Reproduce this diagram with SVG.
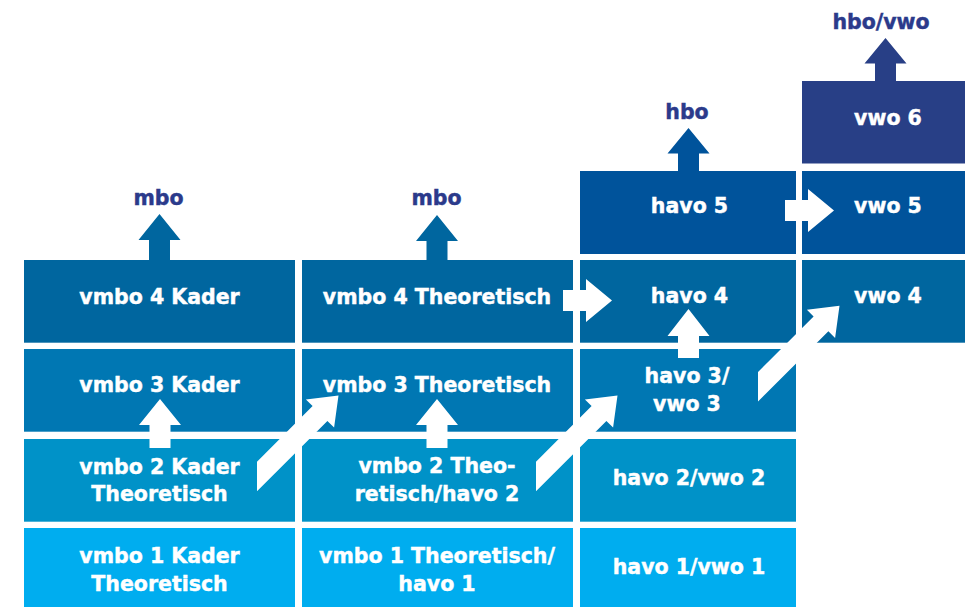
<svg xmlns="http://www.w3.org/2000/svg" width="965" height="607" viewBox="0 0 965 607">
<style>
text{font-family:"DejaVu Sans","Liberation Sans",sans-serif;font-weight:bold;font-size:20.5px;text-anchor:middle;stroke-width:0.45px}
.t{fill:#ffffff;stroke:#ffffff}
.lbl{fill:#2B3A8B;stroke:#2B3A8B}
.r1{fill:#00ADEF}
.r2{fill:#0092C8}
.r3{fill:#0077B3}
.r4{fill:#00669F}
.r5{fill:#00539B}
.r6{fill:#283F86}
.w{fill:#ffffff}
</style>
<rect width="965" height="607" fill="#ffffff"/>
<g id="col1">
<g id="vmbo1k"><rect class="r1" x="24" y="528" width="271" height="80"/><text class="t" x="159.5" y="563">vmbo 1 Kader</text><text class="t" x="159.5" y="590.7">Theoretisch</text></g>
<g id="vmbo2k"><rect class="r2" x="24" y="439" width="271" height="82.7"/><text class="t" x="159.5" y="474">vmbo 2 Kader</text><text class="t" x="159.5" y="501">Theoretisch</text></g>
<g id="vmbo3k"><rect class="r3" x="24" y="349" width="271" height="82.7"/><text class="t" x="159.5" y="392">vmbo 3 Kader</text></g>
<g id="vmbo4k"><rect class="r4" x="24" y="260" width="271" height="82.7"/><text class="t" x="159.5" y="304">vmbo 4 Kader</text></g>
</g>
<g id="col2">
<g id="vmbo1t"><rect class="r1" x="302" y="528" width="271" height="80"/><text class="t" x="437" y="563">vmbo 1 Theoretisch/</text><text class="t" x="437" y="591">havo 1</text></g>
<g id="vmbo2t"><rect class="r2" x="302" y="439" width="271" height="82.7"/><text class="t" x="437" y="473">vmbo 2 Theo-</text><text class="t" x="437" y="501">retisch/havo 2</text></g>
<g id="vmbo3t"><rect class="r3" x="302" y="349" width="271" height="82.7"/><text class="t" x="437" y="392">vmbo 3 Theoretisch</text></g>
<g id="vmbo4t"><rect class="r4" x="302" y="260" width="271" height="82.7"/><text class="t" x="437" y="304">vmbo 4 Theoretisch</text></g>
</g>
<g id="col3">
<g id="havo1"><rect class="r1" x="580" y="528" width="216" height="80"/><text class="t" x="689" y="574">havo 1/vwo 1</text></g>
<g id="havo2"><rect class="r2" x="580" y="439" width="216" height="82.7"/><text class="t" x="689" y="485">havo 2/vwo 2</text></g>
<g id="havo3"><rect class="r3" x="580" y="349" width="216" height="82.7"/><text class="t" x="687" y="383">havo 3/</text><text class="t" x="687" y="411">vwo 3</text></g>
<g id="havo4"><rect class="r4" x="580" y="260" width="216" height="82.7"/><text class="t" x="689.5" y="303">havo 4</text></g>
<g id="havo5"><rect class="r5" x="580" y="171" width="216" height="83"/><text class="t" x="689.5" y="213">havo 5</text></g>
</g>
<g id="col4">
<g id="vwo4"><rect class="r4" x="802" y="260" width="170" height="82.7"/><text class="t" x="888" y="303">vwo 4</text></g>
<g id="vwo5"><rect class="r5" x="802" y="171" width="170" height="83"/><text class="t" x="888" y="213">vwo 5</text></g>
<g id="vwo6"><rect class="r6" x="802" y="81" width="170" height="82.5"/><text class="t" x="888" y="125">vwo 6</text></g>
</g>
<g id="exits">
<g id="mbo1"><text class="lbl" x="158.5" y="205">mbo</text></g>
<g id="mbo2"><text class="lbl" x="436.5" y="205">mbo</text></g>
<g id="hbo"><text class="lbl" x="687" y="119">hbo</text></g>
<g id="hbovwo"><text class="lbl" x="881" y="29">hbo/vwo</text></g>
</g>
<g id="connectors">
<polygon class="r4" points="159.5,214 180.5,240 170,240 170,261 149,261 149,240 138.5,240"/>
<polygon class="r4" points="437,215 458,241 447.5,241 447.5,261 426.5,261 426.5,241 416,241"/>
<polygon class="r5" points="688.5,128 709.5,153.5 699,153.5 699,172 678,172 678,153.5 667.5,153.5"/>
<polygon class="r6" points="885.5,38 906.5,63.5 896,63.5 896,82 875,82 875,63.5 864.5,63.5"/>
<polygon class="w" points="160,399 181,425 170.5,425 170.5,448 149.5,448 149.5,425 139,425"/>
<polygon class="w" points="437,399 458,425 447.5,425 447.5,448 426.5,448 426.5,425 416,425"/>
<polygon class="w" points="688.5,309 709.5,336 699,336 699,358 678,358 678,336 667.5,336"/>
<polygon class="w" points="785,200 808,200 808,189 834,210.5 808,232 808,221 785,221"/>
<polygon class="w" points="563,290 586,290 586,279 612,300.5 586,322 586,311 563,311"/>
<polygon class="w" points="257,461.7 312.6,406.1 305.9,399.4 338.5,395.5 334.1,427.6 327.4,420.9 257,491.3"/>
<polygon class="w" points="536,461.7 591.6,406.1 584.9,399.4 617.5,395.5 613.1,427.6 606.4,420.9 536,491.3"/>
<polygon class="w" points="758,372 813.6,316.4 806.9,309.7 839.5,305.8 835.1,337.9 828.4,331.2 758,401.6"/>
</g>
</svg>
